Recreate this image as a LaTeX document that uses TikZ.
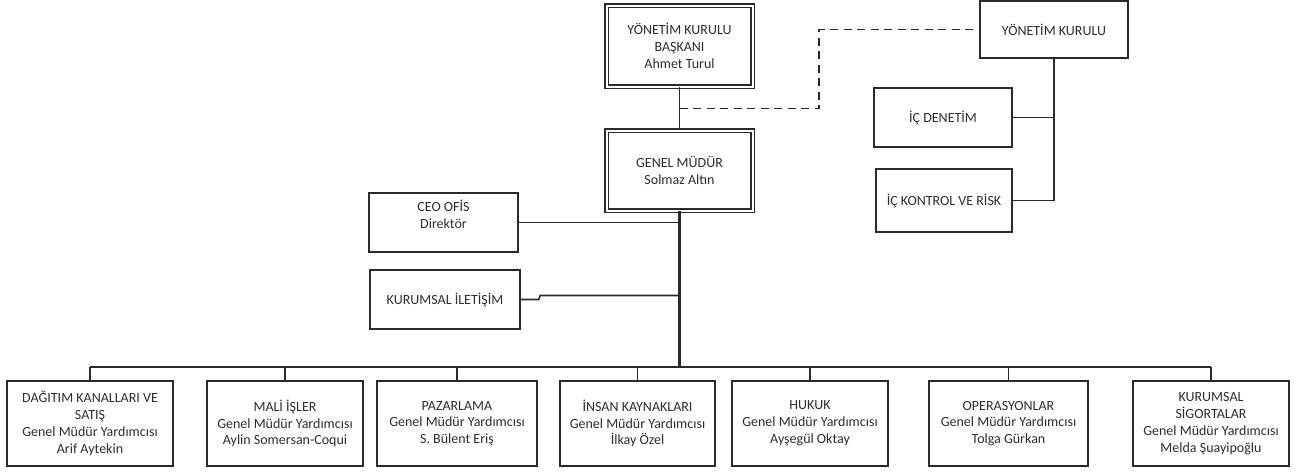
\documentclass[tikz,border=0pt]{standalone}
\usepackage{fontspec}
\setmainfont{Carlito}
\usetikzlibrary{calc,shadows}

\definecolor{linegray}{HTML}{2A2A2A}
\definecolor{textgray}{HTML}{2E2E2E}

\def\rowy{423.5}
\def\rowh{85}
\def\busy{367}

\tikzset{
	orgbox/.style={draw=linegray, line width=1.5pt, fill=white, text=textgray, align=center, inner sep=0pt,
		font=\fontsize{14}{16.8}\selectfont,
		drop shadow={shadow xshift=1.4pt, shadow yshift=-1.4pt, opacity=0.22}},
	headbox/.style={orgbox, line width=1.3pt, double=white, double distance=2pt},
	link/.style={draw=linegray, line width=1.6pt},
}

\begin{document}
\begin{tikzpicture}[x=1pt, y=-1pt]

	\useasboundingbox (0,0) rectangle (1309,472);

	%%% Top level
	\node[headbox, minimum width=146, minimum height=81] (yk_baskan) at (679.5,46) {YÖNETİM KURULU\\BAŞKANI\\Ahmet Turul};
	\node[headbox, minimum width=146, minimum height=80] (genel_mudur) at (679.5,170.5) {GENEL MÜDÜR\\Solmaz Altın};
	\node[orgbox, minimum width=148, minimum height=57] (yk) at (1054,29.5) {YÖNETİM KURULU};
	\node[orgbox, minimum width=138, minimum height=59] (ic_denetim) at (943,117.5) {İÇ DENETİM};
	\node[orgbox, minimum width=136, minimum height=63] (ic_kontrol) at (944,200.5) {İÇ KONTROL VE RİSK};

	%%% Staff units
	\node[orgbox, minimum width=149, minimum height=59] (ceo_ofis) at (443.5,222.5) {CEO OFİS\\Direktör\\~};
	\node[orgbox, minimum width=150, minimum height=59] (kurumsal_il) at (445,299.5) {KURUMSAL İLETİŞİM};

	%%% Deputy general managers
	\node[orgbox, minimum width=166, minimum height=\rowh] (gmy_dagitim) at (90,\rowy) {DAĞITIM KANALLARI VE\\SATIŞ\\Genel Müdür Yardımcısı\\Arif Aytekin};
	\node[orgbox, minimum width=156, minimum height=\rowh] (gmy_mali) at (285,\rowy) {MALİ İŞLER\\Genel Müdür Yardımcısı\\Aylin Somersan-Coqui};
	\node[orgbox, minimum width=160, minimum height=\rowh] (gmy_pazarlama) at (457,\rowy) {PAZARLAMA\\Genel Müdür Yardımcısı\\S. Bülent Eriş};
	\node[orgbox, minimum width=155, minimum height=\rowh] (gmy_ik) at (637.5,\rowy) {İNSAN KAYNAKLARI\\Genel Müdür Yardımcısı\\İlkay Özel};
	\node[orgbox, minimum width=156, minimum height=\rowh] (gmy_hukuk) at (810,\rowy) {HUKUK\\Genel Müdür Yardımcısı\\Ayşegül Oktay};
	\node[orgbox, minimum width=159, minimum height=\rowh] (gmy_operasyon) at (1008.5,\rowy) {OPERASYONLAR\\Genel Müdür Yardımcısı\\Tolga Gürkan};
	\node[orgbox, minimum width=156, minimum height=\rowh] (gmy_sigorta) at (1211,\rowy) {KURUMSAL\\SİGORTALAR\\Genel Müdür Yardımcısı\\Melda Şuayipoğlu};

	%%% Chair to general manager, dashed to board
	\draw[link] (yk_baskan.south) -- (genel_mudur.north);
	\coordinate (dash_start) at ($(yk_baskan.south)!0.5!(genel_mudur.north)$);
	\draw[link, dash pattern=on 8pt off 5.5pt] (dash_start) -- ++(139.5,0) |- (yk.west);

	%%% Board units
	\draw[link] (yk.south) -- (yk.south |- ic_kontrol.east);
	\draw[link] (ic_denetim.east) -- (ic_denetim.east -| yk.south);
	\draw[link] (ic_kontrol.east) -- (ic_kontrol.east -| yk.south);

	%%% Spine and staff units
	\coordinate (bus) at (679.5,\busy);
	\draw[link, line width=2.2pt] (genel_mudur.south) -- (bus);
	\draw[link] (ceo_ofis.east) -- (ceo_ofis.east -| genel_mudur.south);
	\draw[link] (kurumsal_il.east) -- ++(18,0) -- ++(1.5,-4) -- ($(kurumsal_il.east -| genel_mudur.south)+(0,-4)$);

	%%% Bus to deputies
	\draw[link] (gmy_dagitim.north |- bus) -- (gmy_sigorta.north |- bus);
	\draw[link] (gmy_dagitim.north) -- (gmy_dagitim.north |- bus);
	\draw[link] (gmy_mali.north) -- (gmy_mali.north |- bus);
	\draw[link] (gmy_pazarlama.north) -- (gmy_pazarlama.north |- bus);
	\draw[link] (gmy_ik.north) -- (gmy_ik.north |- bus);
	\draw[link] (gmy_hukuk.north) -- (gmy_hukuk.north |- bus);
	\draw[link] (gmy_operasyon.north) -- (gmy_operasyon.north |- bus);
	\draw[link] (gmy_sigorta.north) -- (gmy_sigorta.north |- bus);

\end{tikzpicture}
\end{document}
